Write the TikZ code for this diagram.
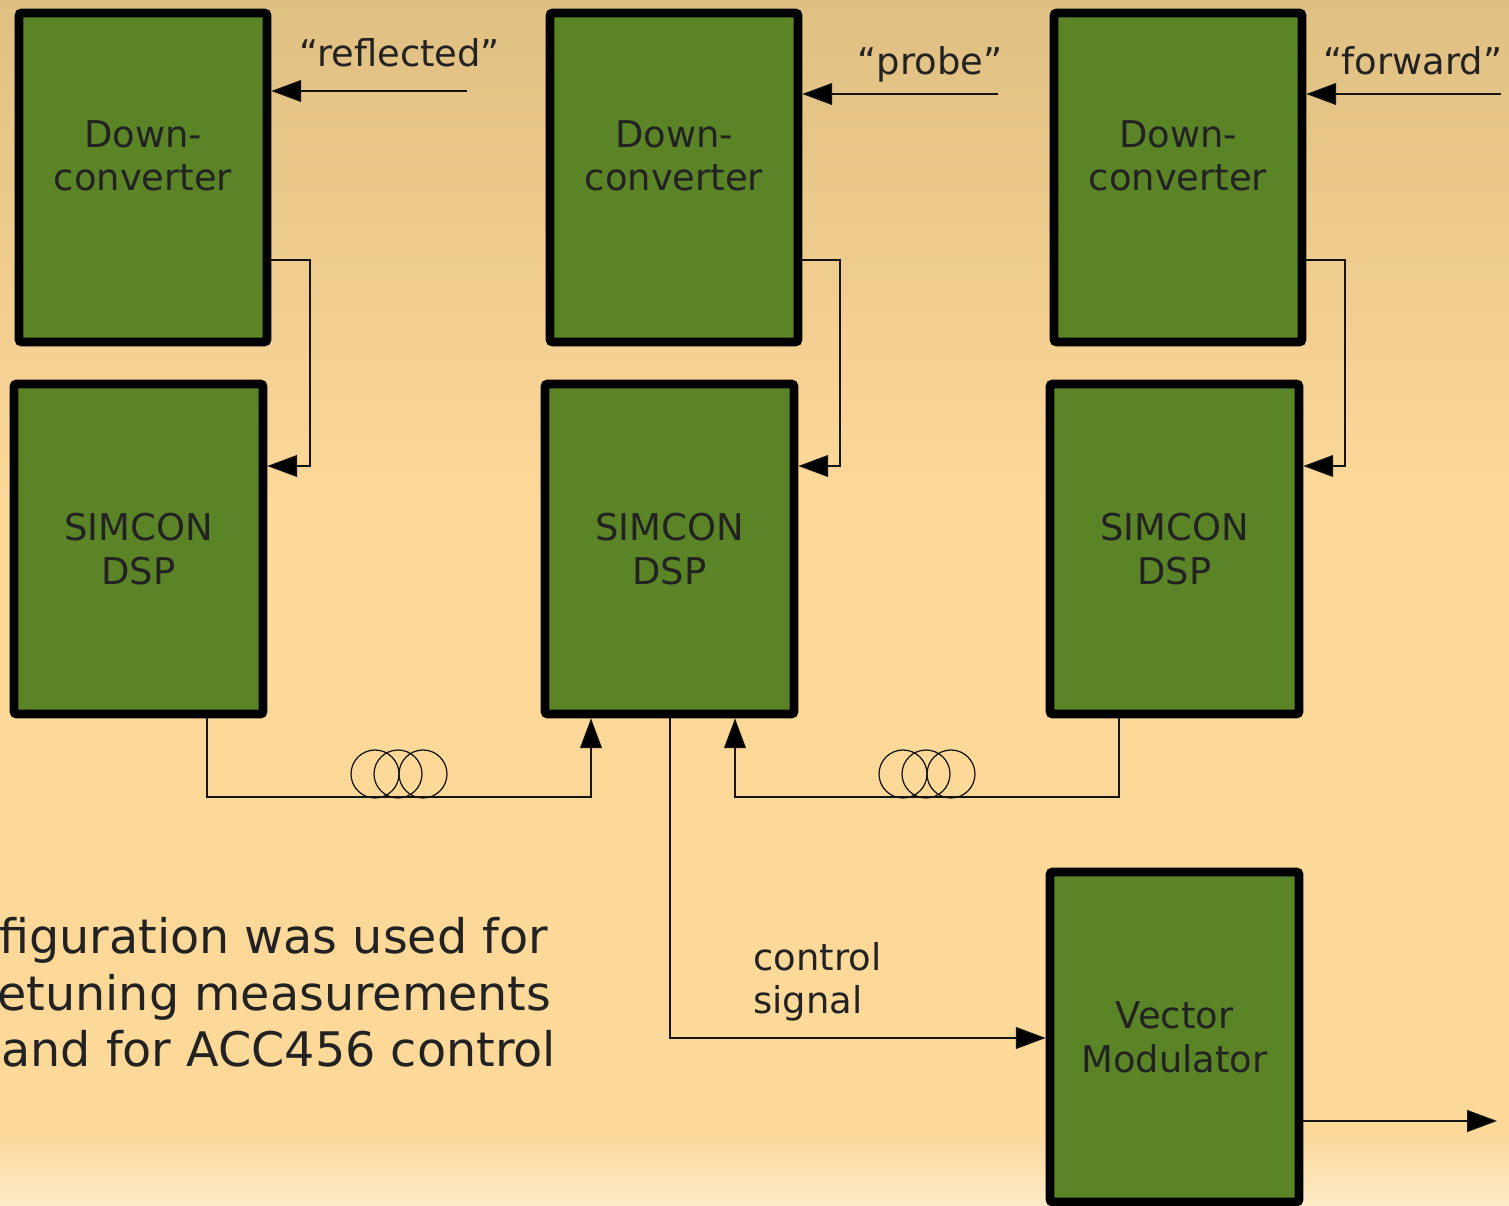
\documentclass[tikz,border=0pt]{standalone}
\usepackage{fontspec}
\setmainfont{DejaVu Sans}
\usetikzlibrary{arrows.meta}
\definecolor{bgT}{RGB}{223,191,130}
\definecolor{bgT2}{RGB}{241,206,144}
\definecolor{bgM}{RGB}{252,216,153}
\definecolor{bgB}{RGB}{253,234,200}
\definecolor{boxgreen}{RGB}{91,132,39}
\definecolor{txt}{RGB}{34,34,34}
\definecolor{wire}{RGB}{20,20,20}
\pgfdeclareverticalshading{bgshade}{100bp}{color(0bp)=(bgB); color(25bp)=(bgB); color(28.15bp)=(bgM); color(54.27bp)=(bgM); color(62.56bp)=(bgT2); color(75bp)=(bgT); color(100bp)=(bgT)}
\begin{document}
\begin{tikzpicture}[x=0.02cm,y=-0.02cm,
  blockbox/.style={draw=black, fill=boxgreen, line width=5pt, rounded corners=1.5pt,
    minimum width=4.98cm, minimum height=6.6cm, inner sep=0pt, align=center,
    text=txt, font=\fontsize{21}{24.9}\selectfont},
  conn/.style={draw=wire, line width=0.7pt, -{Triangle[length=17pt,width=12.5pt,fill=black]}},
  coil/.style={circle, draw=wire, line width=0.7pt, minimum size=0.96cm, inner sep=0pt},
  lbl/.style={text=txt, font=\fontsize{21}{24.9}\selectfont, inner sep=0pt},
  big/.style={text=txt, font=\fontsize{27.1}{32}\selectfont, inner sep=0pt}]
\useasboundingbox (0,0) rectangle (1509,1206);
\fill[shading=bgshade] (0,0) rectangle (1509,1206);

% blocks
\node[blockbox, minimum width=4.96cm, minimum height=6.58cm] (dc1) at (143,177.5) {Down-\\converter\\\mbox{}};
\node[blockbox, minimum width=4.96cm, minimum height=6.58cm] (dc2) at (674,177.5) {Down-\\converter\\\mbox{}};
\node[blockbox, minimum width=4.96cm, minimum height=6.58cm] (dc3) at (1178,177.5) {Down-\\converter\\\mbox{}};
\node[blockbox] (sim1) at (138.5,549) {SIMCON\\DSP};
\node[blockbox] (sim2) at (669.5,549) {SIMCON\\DSP};
\node[blockbox] (sim3) at (1174.5,549) {SIMCON\\DSP};
\node[blockbox] (vm) at (1174.5,1037) {Vector\\Modulator};

% input labels
\node[lbl, anchor=base] (lref) at (400,67) {“reflected”};
\node[lbl, anchor=base] (lprobe) at (930,75) {“probe”};
\node[lbl, anchor=base] (lfwd) at (1413,75) {“forward”};

% input arrows
\coordinate (inR) at (467,91);
\coordinate (inP) at (998,94);
\coordinate (inF) at (1501,94);
\draw[conn] (inR) -- (dc1.east |- inR);
\draw[conn] (inP) -- (dc2.east |- inP);
\draw[conn] (inF) -- (dc3.east |- inF);

% downconverter -> simcon
\draw[conn] (dc1.east |- 0,260) -| (310,466) -- (sim1.east |- 0,466);
\draw[conn] (dc2.east |- 0,260) -| (840,466) -- (sim2.east |- 0,466);
\draw[conn] (dc3.east |- 0,260) -| (1345,466) -- (sim3.east |- 0,466);

% simcon links with fibre coils
\draw[conn] (sim1.south -| 207,0) |- (591,797) -- (sim2.south -| 591,0);
\draw[conn] (sim3.south -| 1119,0) |- (735,797) -- (sim2.south -| 735,0);
\node[coil] (c1) at (375,774) {};
\node[coil] (c2) at (398,774) {};
\node[coil] (c3) at (423,774) {};
\node[coil] (c4) at (903,774) {};
\node[coil] (c5) at (926,774) {};
\node[coil] (c6) at (951,774) {};

% control signal
\draw[conn] (sim2.south -| 670,0) |- (vm.west |- 0,1038);
\node[lbl, anchor=base west] (lctl) at (753,970) {control};
\node[lbl, anchor=base west] (lsig) at (753,1013) {signal};

% output
\coordinate (out) at (1497,1121);
\draw[conn] (vm.east |- out) -- (out);

% description text
\node[big, anchor=base west] (d1) at (-1,953) {figuration was used for};
\node[big, anchor=base west] (d2) at (-3,1010) {etuning measurements};
\node[big, anchor=base west] (d3) at (1,1066) {and for ACC456 control};
\end{tikzpicture}
\end{document}
